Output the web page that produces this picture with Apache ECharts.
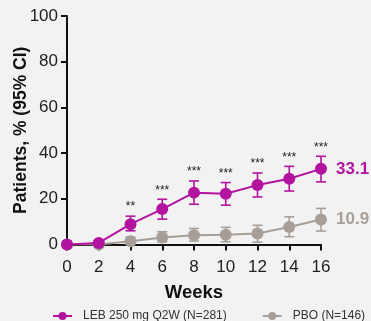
<!DOCTYPE html>
<html><head><meta charset="utf-8">
<script src="https://cdn.jsdelivr.net/npm/echarts@6/dist/echarts.min.js"></script>
<style>html,body{margin:0;padding:0;background:#f2f2f2}#c{width:371px;height:321px}</style>
</head><body><div id="c"></div>
<script>
var weeks = [0, 2, 4, 6, 8, 10, 12, 14, 16];
var lebValues = [0, 0.7, 8.9, 15.5, 22.7, 22.2, 26.0, 28.8, 33.1];
var lebLower = [0, 0, 6.0, 11.1, 17.6, 17.2, 20.8, 23.4, 27.4];
var lebUpper = [0, 1.5, 12.4, 19.8, 27.8, 27.1, 31.3, 34.2, 38.6];
var pboValues = [0, 0, 1.4, 3.1, 4.1, 4.3, 4.8, 7.7, 10.9];
var pboLower = [0, 0, 0.2, 1.1, 1.5, 1.2, 1.0, 3.4, 5.9];
var pboUpper = [0, 0, 3.2, 5.6, 7.0, 7.5, 8.4, 12.1, 15.8];
var stars = ["", "", "**", "***", "***", "***", "***", "***", "***"];
var yTicks = [0, 20, 40, 60, 80, 100];
var lebName = "LEB 250 mg Q2W (N=281)";
var pboName = "PBO (N=146)";
var lebColor = "#b2139f";
var pboColor = "#a79f97";
var font = "Liberation Sans, Arial, sans-serif";

function pairs(v) { return weeks.map(function (w, i) { return [w, v[i]]; }); }
function errData(lo, hi) { return weeks.map(function (w, i) { return [w, lo[i], hi[i]]; }); }

function errRender(color) {
  return function (params, api) {
    var x = api.value(0);
    var lo = api.coord([x, api.value(1)]);
    var hi = api.coord([x, api.value(2)]);
    var hw = 5;
    var st = { stroke: color, lineWidth: 1.6 };
    return { type: 'group', children: [
      { type: 'line', shape: { x1: hi[0], y1: hi[1], x2: lo[0], y2: lo[1] }, style: st },
      { type: 'line', shape: { x1: hi[0] - hw, y1: hi[1], x2: hi[0] + hw, y2: hi[1] }, style: st },
      { type: 'line', shape: { x1: lo[0] - hw, y1: lo[1], x2: lo[0] + hw, y2: lo[1] }, style: st }
    ]};
  };
}

var chart = echarts.init(document.getElementById('c'));
chart.setOption({
  backgroundColor: '#f2f2f2',
  animation: false,
  grid: { left: 67, right: 50, top: 16, bottom: 76.5, containLabel: false, outerBoundsMode: 'none' },
  legend: {
    top: 305, left: 47, width: 330, itemGap: 35, itemWidth: 19, itemHeight: 10,
    textStyle: { fontFamily: font, fontSize: 12, color: '#333', padding: [0, 0, 0, 6] },
    data: [lebName, pboName]
  },
  xAxis: {
    type: 'value', min: 0, max: 16, interval: 2,
    name: 'Weeks', nameLocation: 'middle', nameGap: 39,
    nameTextStyle: { fontFamily: font, fontSize: 18.5, fontWeight: 'bold', color: '#111' },
    axisLine: { lineStyle: { color: '#111', width: 2 } },
    axisTick: { length: 6, lineStyle: { color: '#111', width: 2 } },
    axisLabel: { fontFamily: font, fontSize: 17, color: '#222', margin: 14 },
    splitLine: { show: false }
  },
  yAxis: {
    type: 'value', min: 0, max: 100, interval: 20,
    name: 'Patients, % (95% CI)', nameLocation: 'middle', nameGap: 37, nameMoveOverlap: false,
    nameTextStyle: { fontFamily: font, fontSize: 17.5, fontWeight: 'bold', color: '#111' },
    axisLine: { show: true, lineStyle: { color: '#111', width: 2 } },
    axisTick: { show: true, length: 6, lineStyle: { color: '#111', width: 2 } },
    axisLabel: { fontFamily: font, fontSize: 17, color: '#222', margin: 9,
      formatter: function (v) { return yTicks.indexOf(v) >= 0 ? String(v) : ''; } },
    splitLine: { show: false }
  },
  series: [
    { type: 'custom', renderItem: errRender(pboColor), data: errData(pboLower, pboUpper), z: 1, silent: true },
    { name: pboName, type: 'line', data: pairs(pboValues), color: pboColor, symbol: 'circle', symbolSize: 12,
      lineStyle: { width: 2 }, z: 2,
      label: { show: true, position: 'right', distance: 9, fontFamily: font, fontSize: 17, fontWeight: 'bold', color: pboColor,
        formatter: function (p) { return p.dataIndex === weeks.length - 1 ? p.value[1].toFixed(1) : ''; } } },
    { type: 'custom', renderItem: errRender(lebColor), data: errData(lebLower, lebUpper), z: 3, silent: true },
    { name: lebName, type: 'line', data: pairs(lebValues), color: lebColor, symbol: 'circle', symbolSize: 12,
      lineStyle: { width: 2 }, z: 4,
      label: { show: true, position: 'right', distance: 9, fontFamily: font, fontSize: 17, fontWeight: 'bold', color: lebColor,
        formatter: function (p) { return p.dataIndex === weeks.length - 1 ? p.value[1].toFixed(1) : ''; } } },
    { type: 'custom', silent: true, z: 5,
      data: weeks.map(function (w, i) { return [w, lebUpper[i], i]; }),
      renderItem: function (params, api) {
        var p = api.coord([api.value(0), api.value(1)]);
        return { type: 'text', x: p[0], y: p[1] - 3,
          style: { text: stars[api.value(2)], align: 'center', verticalAlign: 'bottom',
            fontFamily: font, fontSize: 12, fill: '#222' } };
      } }
  ]
});
</script></body></html>
